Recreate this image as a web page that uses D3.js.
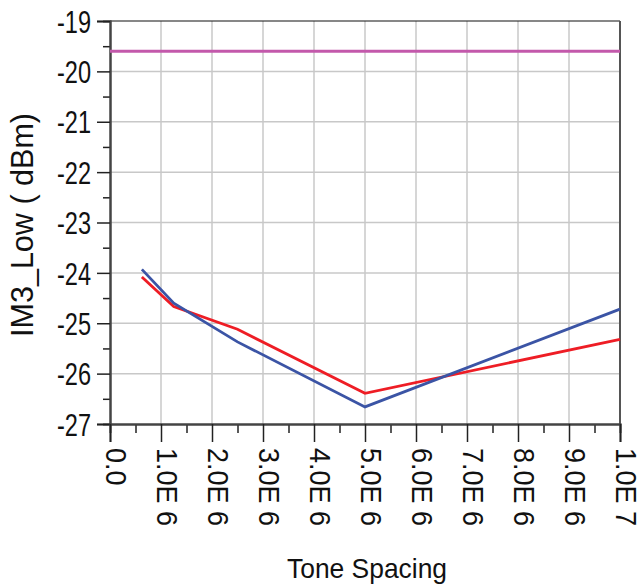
<!DOCTYPE html>
<html><head><meta charset="utf-8">
<script src="https://cdn.jsdelivr.net/npm/d3@7"></script>
<style>body{margin:0;background:#fff}svg{display:block}text{font-family:"Liberation Sans Narrow","Arial Narrow","Liberation Sans",sans-serif;fill:#111}</style>
</head><body><svg id="c" width="642" height="587"></svg>
<script>
const toneSpacing = [0.625e6, 1.25e6, 2.5e6, 5e6, 10e6];
const seriesBlue = [-23.93, -24.60, -25.37, -26.66, -24.72];
const seriesRed = [-24.08, -24.67, -25.12, -26.39, -25.32];
const refLineX = [0, 10e6];
const refLineY = [-19.6, -19.6];
const xTicks = [0,1e6,2e6,3e6,4e6,5e6,6e6,7e6,8e6,9e6,10e6];
const xTickLabels = ["0.0","1.0E 6","2.0E 6","3.0E 6","4.0E 6","5.0E 6","6.0E 6","7.0E 6","8.0E 6","9.0E 6","1.0E 7"];
const yTicks = [-19,-20,-21,-22,-23,-24,-25,-26,-27];

const L=110,R=620,T=21,B=424;
const svg=d3.select("#c");
const x=d3.scaleLinear().domain([0,10e6]).range([L,R]);
const y=d3.scaleLinear().domain([-27,-19]).range([B,T]);

function condense(sel,f){sel.each(function(){const w=this.getComputedTextLength();d3.select(this).attr("textLength",w*f).attr("lengthAdjust","spacingAndGlyphs");});}

// grid
const g=svg.append("g");
g.selectAll(".vg").data(xTicks.slice(1,-1)).join("line").attr("x1",d=>x(d)).attr("x2",d=>x(d)).attr("y1",T).attr("y2",B).attr("stroke","#c8c8c8").attr("stroke-width",1.5);
g.selectAll(".hg").data(yTicks.slice(1,-1)).join("line").attr("x1",L).attr("x2",R).attr("y1",d=>y(d)).attr("y2",d=>y(d)).attr("stroke","#c8c8c8").attr("stroke-width",1.5);

// frame
svg.append("line").attr("x1",L).attr("x2",R).attr("y1",T).attr("y2",T).attr("stroke","#111").attr("stroke-width",1.2);
svg.append("line").attr("x1",R).attr("x2",R).attr("y1",T).attr("y2",B).attr("stroke","#555").attr("stroke-width",2);

// minor ticks
const yMinor=d3.range(-26.5,-19,1);
const xMinor=d3.range(0.5e6,10e6,1e6);
const yAxM=svg.append("g").attr("transform",`translate(${L},0)`).call(d3.axisLeft(y).tickValues(yMinor).tickSize(7).tickFormat(""));
const xAxM=svg.append("g").attr("transform",`translate(0,${B})`).call(d3.axisBottom(x).tickValues(xMinor).tickSize(9).tickFormat(""));
// major axes
const yAx=svg.append("g").attr("transform",`translate(${L},0)`).call(d3.axisLeft(y).tickValues(yTicks).tickSize(13).tickPadding(6).tickFormat(d=>String(d)));
const xAx=svg.append("g").attr("transform",`translate(0,${B})`).call(d3.axisBottom(x).tickValues(xTicks).tickSize(18).tickFormat((d,i)=>xTickLabels[i]));
[yAxM,xAxM,yAx,xAx].forEach(a=>{a.selectAll("path").attr("stroke","#444").attr("stroke-width",2);a.selectAll(".tick line").attr("stroke","#222").attr("stroke-width",1.5);});
yAx.selectAll("text").attr("font-size",31).attr("fill","#111").attr("dy","0.36em").attr("font-family",null);
condense(yAx.selectAll("text"),0.76);
xAx.selectAll("text").attr("font-size",29).attr("fill","#111").attr("font-family",null)
  .attr("transform","rotate(90)").attr("text-anchor","start").attr("x",24).attr("y",5).attr("dy","0");
condense(xAx.selectAll("text"),0.93);

// lines
const line=d3.line().x(d=>x(d[0])).y(d=>y(d[1]));
svg.append("path").datum(d3.zip(refLineX,refLineY)).attr("d",line).attr("fill","none").attr("stroke","#c359ab").attr("stroke-width",3);
svg.append("path").datum(d3.zip(toneSpacing,seriesRed)).attr("d",line).attr("fill","none").attr("stroke","#ee1d25").attr("stroke-width",2.8);
svg.append("path").datum(d3.zip(toneSpacing,seriesBlue)).attr("d",line).attr("fill","none").attr("stroke","#3b54a5").attr("stroke-width",2.8);

// titles
const yt=svg.append("text").attr("transform","translate(33,225) rotate(-90)").attr("text-anchor","middle").attr("font-size",32).text("IM3_Low ( dBm)");
yt.attr("textLength",224).attr("lengthAdjust","spacingAndGlyphs");
const xt=svg.append("text").attr("x",367).attr("y",578).attr("text-anchor","middle").attr("font-size",28).text("Tone Spacing");
xt.attr("textLength",160).attr("lengthAdjust","spacingAndGlyphs");
</script></body></html>
